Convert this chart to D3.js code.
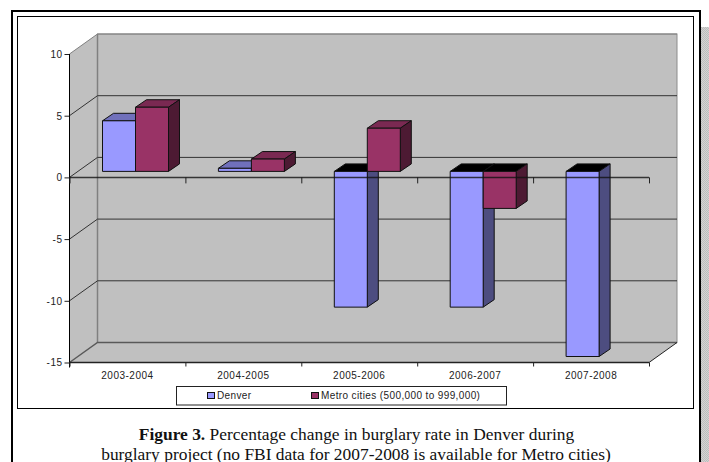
<!DOCTYPE html>
<html>
<head>
<meta charset="utf-8">
<script src="https://cdn.jsdelivr.net/npm/d3@7"></script>
<style>
    html, body { margin: 0; padding: 0; background: white; overflow: hidden; }
    text { font-family: "Liberation Sans", Arial, sans-serif; font-size: 10px; fill: #222; letter-spacing: 0.5px; }
    text.caption { font-family: "Liberation Serif", "Times New Roman", serif; font-size: 17.42px; fill: #111; letter-spacing: 0; }
    .legend text { letter-spacing: 0.38px; }
    .domain { display: none; }
</style>
</head>
<body>
<div id="chart"></div>
<script>
const periods = ["2003-2004", "2004-2005", "2005-2006", "2006-2007", "2007-2008"];
const seriesNames = ["Denver", "Metro cities (500,000 to 999,000)"];
const denver = [4.1, 0.25, -11, -11, -15];
const metro = [5.2, 1, 3.5, -3, null];
const yTicks = [10, 5, 0, -5, -10, -15];

const svg = d3.select("#chart").append("svg")
    .attr("width", 709)
    .attr("height", 462)
    .style("display", "block");

// frame + checker shadow on the right
const pattern = svg.append("defs").append("pattern")
    .attr("id", "checker")
    .attr("width", 2).attr("height", 2)
    .attr("patternUnits", "userSpaceOnUse");
pattern.append("rect").attr("width", 2).attr("height", 2).attr("fill", "#d4d4d4");
pattern.append("rect").attr("width", 1).attr("height", 1).attr("fill", "#bcbcbc");
pattern.append("rect").attr("x", 1).attr("y", 1).attr("width", 1).attr("height", 1).attr("fill", "#bcbcbc");

svg.append("rect").attr("x", 701).attr("y", 27).attr("width", 8).attr("height", 435).attr("fill", "url(#checker)");
svg.append("rect").attr("x", 12).attr("y", 11).attr("width", 688).attr("height", 470)
    .attr("fill", "white").attr("stroke", "black").attr("stroke-width", 2);
svg.append("rect").attr("x", 17.5).attr("y", 16.5).attr("width", 676).attr("height", 392)
    .attr("fill", "white").attr("stroke", "black").attr("stroke-width", 1);

// scales
const left = 69.5, right = 649;
const y = d3.scaleLinear().domain([10, -15]).range([54, 362.5]);
const x = d3.scaleBand().domain(periods).range([left, right]);
const xEdge = d3.scaleLinear().domain([0, periods.length]).range([left, right]);
const xSeries = d3.scaleBand().domain(seriesNames).range([33, 99]);

// 3d offsets: wall depth, bar depth, bar set back from the front plane
const wallDx = 28, wallDy = -20;
const barDx = 11, barDy = -7.5;
const setDy = -6;

// walls and floor
const wallFill = "#c0c0c0";
svg.append("rect")
    .attr("x", left + wallDx).attr("y", y(10) + wallDy)
    .attr("width", right - left).attr("height", y(-15) - y(10))
    .attr("fill", wallFill).attr("stroke", "#8c8c8c").attr("stroke-width", 1);

svg.append("path")
    .attr("d", d3.line()([[left, y(10)], [left + wallDx, y(10) + wallDy], [left + wallDx, y(-15) + wallDy], [left, y(-15)]]) + "Z")
    .attr("fill", wallFill).attr("stroke", "none");

svg.append("path")
    .attr("d", d3.line()([[left, y(-15)], [right, y(-15)], [right + wallDx, y(-15) + wallDy], [left + wallDx, y(-15) + wallDy]]) + "Z")
    .attr("fill", wallFill).attr("stroke", "none");

svg.append("line")
    .attr("x1", left + wallDx).attr("x2", left + wallDx)
    .attr("y1", y(10) + wallDy).attr("y2", y(-15) + wallDy)
    .attr("stroke", "#808080").attr("stroke-width", 1.5);

// gridlines, back wall + left wall diagonal
yTicks.forEach(t => {
    svg.append("path")
        .attr("d", d3.line()([[left, y(t)], [left + wallDx, y(t) + wallDy], [right + wallDx, y(t) + wallDy]]))
        .attr("fill", "none")
        .attr("stroke", t === 10 ? "#808080" : (t === -15 ? "#595959" : "#333"))
        .attr("stroke-width", t === -15 ? 1.5 : 1);
});

svg.append("line")
    .attr("x1", right).attr("x2", right + wallDx)
    .attr("y1", y(-15)).attr("y2", y(-15) + wallDy)
    .attr("stroke", "#222").attr("stroke-width", 1);

// bars
const colors = [
    {front: "#9999ff", top: "#7070bb", side: "#4d4d80"},
    {front: "#993366", top: "#7a2952", side: "#4d1a33"}
];

function drawBar(period, name, value, c) {
    if (value === null) return;
    let x0 = x(period) + xSeries(name);
    let x1 = x0 + xSeries.bandwidth();
    let y0 = y(Math.max(value, 0)) + setDy;
    let y1 = y(Math.min(value, 0)) + setDy;

    let g = svg.append("g")
        .attr("stroke", "#111")
        .attr("stroke-width", 1)
        .attr("stroke-linejoin", "round");

    g.append("path")
        .attr("d", d3.line()([[x0, y0], [x0 + barDx, y0 + barDy], [x1 + barDx, y0 + barDy], [x1, y0]]) + "Z")
        .attr("fill", value < 0 ? "black" : c.top);
    g.append("path")
        .attr("d", d3.line()([[x1, y0], [x1 + barDx, y0 + barDy], [x1 + barDx, y1 + barDy], [x1, y1]]) + "Z")
        .attr("fill", c.side);
    g.append("rect")
        .attr("x", x0).attr("y", y0)
        .attr("width", x1 - x0).attr("height", y1 - y0)
        .attr("fill", c.front);
}

periods.forEach((p, i) => {
    drawBar(p, seriesNames[0], denver[i], colors[0]);
    drawBar(p, seriesNames[1], metro[i], colors[1]);
});

// axes
svg.append("g")
    .attr("transform", `translate(${left},0)`)
    .call(d3.axisLeft(y).tickValues(yTicks).tickSize(5).tickPadding(2).tickFormat(d => String(d)))
    .call(g => g.selectAll("text").attr("dy", "0.33em"))
    .call(g => g.selectAll("line").attr("stroke", "#222"));

svg.append("line")
    .attr("x1", left).attr("x2", left)
    .attr("y1", y(10)).attr("y2", y(-15) + 5)
    .attr("stroke", "black").attr("stroke-width", 1);

// zero axis sits over the bars
svg.append("g")
    .attr("transform", `translate(0,${y(0)})`)
    .call(d3.axisBottom(xEdge).ticks(periods.length).tickSize(6).tickFormat(""))
    .call(g => g.selectAll("line").attr("stroke", "#222"));
svg.append("line")
    .attr("x1", left).attr("x2", right)
    .attr("y1", y(0)).attr("y2", y(0))
    .attr("stroke", "#111").attr("stroke-opacity", 0.8).attr("stroke-width", 1.5);

svg.append("g")
    .attr("transform", `translate(0,${y(-15)})`)
    .call(d3.axisBottom(xEdge).ticks(periods.length).tickSize(4).tickFormat(""))
    .call(g => g.selectAll("line").attr("stroke", "#222"));
svg.append("line")
    .attr("x1", left).attr("x2", right)
    .attr("y1", y(-15)).attr("y2", y(-15))
    .attr("stroke", "#222").attr("stroke-width", 1.5);

svg.append("g")
    .attr("transform", `translate(0,${y(-15)})`)
    .call(d3.axisBottom(x).tickSize(0).tickPadding(9))
    .call(g => g.selectAll("text").attr("dy", "0.71em"));

// legend
let legend = svg.append("g").attr("class", "legend");
legend.append("rect")
    .attr("x", 176.5).attr("y", 386.5)
    .attr("width", 330).attr("height", 18.5)
    .attr("fill", "white").attr("stroke", "#222");

[207, 311].forEach((lx, i) => {
    legend.append("rect")
        .attr("x", lx + 0.5).attr("y", 392.5)
        .attr("width", 7).attr("height", 6)
        .attr("fill", colors[i].front).attr("stroke", "#111");
    legend.append("text")
        .attr("x", lx + 10).attr("y", 399)
        .text(seriesNames[i]);
});

// caption, second line runs off the bottom edge as in the reference
let cap1 = svg.append("text").attr("class", "caption")
    .attr("x", 356.5).attr("y", 440).attr("text-anchor", "middle");
cap1.append("tspan").attr("font-weight", "bold").text("Figure 3.");
cap1.append("tspan").text(" Percentage change in burglary rate in Denver during");

svg.append("text").attr("class", "caption")
    .attr("x", 356).attr("y", 460).attr("text-anchor", "middle")
    .text("burglary project (no FBI data for 2007-2008 is available for Metro cities)");
</script>
</body>
</html>
